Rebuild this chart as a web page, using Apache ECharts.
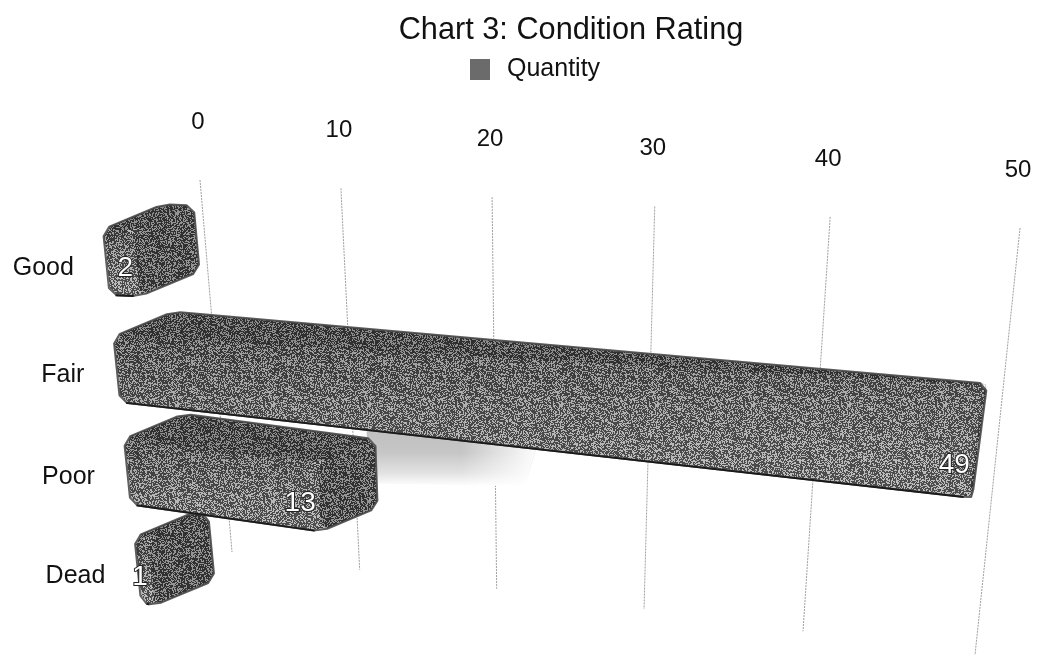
<!DOCTYPE html>
<html>
<head>
<meta charset="utf-8">
<title>Chart 3: Condition Rating</title>
<script src="https://cdn.jsdelivr.net/npm/echarts@6/dist/echarts.min.js"></script>
<style>
html, body { margin: 0; padding: 0; background: #fff; }
#main { width: 1038px; height: 656px; }
</style>
</head>
<body>
<div id="main"></div>
<script>
var categories = ['Good', 'Fair', 'Poor', 'Dead'];
var quantities = [2, 49, 13, 1];
var tickValues = [0, 10, 20, 30, 40, 50];
var seriesName = 'Quantity';

var FONT = '"Liberation Sans", Arial, sans-serif';

// the picture is a tilted 3d chart: plot coordinates from the axes are bent onto these quads
var gridQuad = { tl: [200, 180], tr: [1020, 228], bl: [232, 552], br: [975, 655], w: 0.83 };
var frontQuad = { tl: [101, 212], tr: [1027, 230], bl: [143, 621], br: [950, 798], w: 0.83 };
var rowNudge = [-1, 4, 4, 0];

function bend(u, w) {
    return u * w / (u * w + 1 - u);
}

function project(q, u, t) {
    var k = bend(u, q.w);
    var x0 = q.tl[0] + (q.bl[0] - q.tl[0]) * t, y0 = q.tl[1] + (q.bl[1] - q.tl[1]) * t;
    var x1 = q.tr[0] + (q.br[0] - q.tr[0]) * t, y1 = q.tr[1] + (q.br[1] - q.tr[1]) * t;
    return [x0 + (x1 - x0) * k, y0 + (y1 - y0) * k];
}

// point on a bar's front face, off the row's centre line by a number of pixels
function frontPoint(u, t, idx, off) {
    var q = frontQuad;
    var c = project(q, u, t);
    var a = project(q, u, t - 0.01), b = project(q, u, t + 0.01);
    var dx = b[0] - a[0], dy = b[1] - a[1], len = Math.sqrt(dx * dx + dy * dy);
    var k = bend(u, q.w);
    var shift = rowNudge[idx] * (1 - k);
    return [c[0] + dx / len * off, c[1] + dy / len * off + shift];
}

function halfHeight(u) {
    var k = bend(u, frontQuad.w);
    return 33 + 25 * k * k;
}

// depth of the bars shrinks toward the right end
function toBack(p, u) {
    var k = bend(u, frontQuad.w), s = 1 - k * k;
    return [p[0] + 60 * s, p[1] - 25 * s];
}

function unit(params, pt) {
    var c = params.coordSys;
    return [(pt[0] - c.x) / c.width, (pt[1] - c.y) / c.height];
}

// cut the corners so that the round join gives the soft edge of the bars
function chamfer(points, d) {
    var out = [];
    var n = points.length;
    for (var i = 0; i < n; i++) {
        var p = points[i], a = points[(i + n - 1) % n], b = points[(i + 1) % n];
        out.push(toward(p, a, d));
        out.push(toward(p, b, d));
    }
    return out;
}

function toward(p, q, d) {
    var dx = q[0] - p[0], dy = q[1] - p[1], len = Math.sqrt(dx * dx + dy * dy);
    if (len < 0.01) {
        return [p[0], p[1]];
    }
    var m = Math.min(d, len * 0.4);
    return [p[0] + dx / len * m, p[1] + dy / len * m];
}

// scanned halftone look
function makeTile(level) {
    var size = 96;
    var cv = document.createElement('canvas');
    cv.width = cv.height = size;
    var ctx = cv.getContext('2d');
    var img = ctx.createImageData(size, size);
    for (var y = 0; y < size; y++) {
        for (var x = 0; x < size; x++) {
            var h = Math.sin(x * 12.9898 + y * 78.233) * 43758.5453;
            h = h - Math.floor(h);
            var g = h < level ? 185 : 62;
            var i = (y * size + x) * 4;
            img.data[i] = img.data[i + 1] = img.data[i + 2] = g;
            img.data[i + 3] = 255;
        }
    }
    ctx.putImageData(img, 0, 0);
    return cv;
}
var barTile = makeTile(0.42);

function poly(points, style) {
    return { type: 'polygon', shape: { points: points }, style: style, silent: true };
}

function renderGridLine(params, api) {
    var v = api.value(0);
    var c = unit(params, api.coord([v, 0]));
    var top = project(gridQuad, c[0], 0), bottom = project(gridQuad, c[0], 1);
    return {
        type: 'group',
        children: [
            {
                type: 'line',
                shape: { x1: top[0], y1: top[1], x2: bottom[0], y2: bottom[1] },
                style: { stroke: '#a0a0a0', lineWidth: 1, lineDash: [2, 1] }
            },
            {
                type: 'text',
                style: {
                    x: top[0] - 2, y: top[1] - 58, text: String(v),
                    fill: '#111', font: '24px ' + FONT, align: 'center', verticalAlign: 'middle'
                }
            }
        ]
    };
}

function renderShadow(params, api) {
    var idx = api.value(1);
    var end = api.value(0);
    var a = project(gridQuad, unit(params, api.coord([end - 2, idx]))[0], 0.6);
    var b = project(gridQuad, unit(params, api.coord([end + 10, idx]))[0], 0.6);
    var c = project(gridQuad, unit(params, api.coord([end + 9, idx]))[0], 0.73);
    var d = project(gridQuad, unit(params, api.coord([end - 2, idx]))[0], 0.77);
    return {
        type: 'group',
        children: [
            poly([a, b, c, d], {
                fill: {
                    type: 'linear', x: 0, y: 0, x2: 0, y2: 1,
                    colorStops: [
                        { offset: 0, color: '#bcbcbc' },
                        { offset: 0.5, color: '#c6c6c6' },
                        { offset: 0.8, color: '#e2e2e2' },
                        { offset: 1, color: '#ffffff' }
                    ]
                }
            }),
            poly([a, b, c, d], {
                fill: {
                    type: 'linear', x: 0, y: 0, x2: 1, y2: 0,
                    colorStops: [
                        { offset: 0, color: 'rgba(255,255,255,0)' },
                        { offset: 0.55, color: 'rgba(255,255,255,0)' },
                        { offset: 1, color: 'rgba(255,255,255,1)' }
                    ]
                }
            })
        ]
    };
}

function renderBar(params, api) {
    var value = api.value(0), idx = api.value(1);
    var centre = unit(params, api.coord([value, idx]));
    var zero = unit(params, api.coord([0, idx]));
    var u = centre[0], t = centre[1], u0 = zero[0];
    var h0 = halfHeight(u0), h1 = halfHeight(u);

    var ftl = frontPoint(u0, t, idx, -h0), fbl = frontPoint(u0, t, idx, h0);
    var ftr = frontPoint(u, t, idx, -h1), fbr = frontPoint(u, t, idx, h1);
    var btl = toBack(ftl, u0), btr = toBack(ftr, u), bbr = toBack(fbr, u);

    var k = bend(u, frontQuad.w);
    var labelPos = frontPoint(u, t, idx, 5 + 20 * k * k);
    var rowLeft = frontPoint(u0, t, idx, 6);
    var R = 7;

    return {
        type: 'group',
        children: [
            poly(chamfer([ftl, btl, btr, bbr, fbr, fbl], R), {
                fill: { image: barTile, repeat: 'repeat' },
                stroke: '#5e5e5e', lineWidth: 2, lineJoin: 'round'
            }),
            // top and end faces are a little darker than the front
            poly(chamfer([ftl, btl, btr, ftr], R), { fill: 'rgba(0,0,0,0.24)' }),
            poly(chamfer([ftr, btr, bbr, fbr], R), { fill: 'rgba(0,0,0,0.2)' }),
            poly(chamfer([ftl, ftr, fbr, fbl], R), {
                fill: {
                    type: 'linear', x: 0, y: 0, x2: 0, y2: 1,
                    colorStops: [
                        { offset: 0, color: 'rgba(0,0,0,0.18)' },
                        { offset: 1, color: 'rgba(255,255,255,0.08)' }
                    ]
                }
            }),
            {
                type: 'polyline',
                shape: { points: [toward(fbl, fbr, 6), toward(fbr, fbl, 6)] },
                style: { stroke: '#1a1a1a', lineWidth: 2, fill: null }
            },
            {
                type: 'text',
                style: {
                    x: labelPos[0] - 4, y: labelPos[1], text: String(value),
                    fill: '#fff', stroke: '#222', lineWidth: 2,
                    font: '28px ' + FONT, align: 'right', verticalAlign: 'middle'
                }
            },
            {
                type: 'text',
                style: {
                    x: rowLeft[0] - 33, y: rowLeft[1], text: categories[idx],
                    fill: '#111', font: '25px ' + FONT, align: 'right', verticalAlign: 'middle'
                }
            }
        ]
    };
}

// lower bars are painted first, the bar above overlaps them
var barData = quantities.map(function (q, i) {
    return [q, i];
}).reverse();

var chart = echarts.init(document.getElementById('main'));
chart.setOption({
    animation: false,
    backgroundColor: '#fff',
    title: {
        text: 'Chart 3: Condition Rating',
        left: 566, top: 10, textAlign: 'center',
        textStyle: { fontFamily: FONT, fontSize: 30.7, fontWeight: 'normal', color: '#111' }
    },
    legend: {
        data: [seriesName],
        left: 465, top: 52,
        itemWidth: 20, itemHeight: 21,
        icon: 'rect',
        textStyle: { fontFamily: FONT, fontSize: 25, color: '#111', padding: [0, 0, 0, 12] }
    },
    grid: { left: 0, right: 0, top: 0, bottom: 0 },
    xAxis: { type: 'value', min: 0, max: 50, interval: 10, show: false },
    yAxis: { type: 'category', data: categories, inverse: true, show: false },
    series: [
        {
            type: 'custom', name: 'axis', silent: true, z: 1,
            renderItem: renderGridLine, clip: false,
            data: tickValues.map(function (v) { return [v, 0]; })
        },
        {
            type: 'custom', name: 'shadow', silent: true, z: 2,
            renderItem: renderShadow, clip: false,
            data: [[quantities[2], 2]]
        },
        {
            type: 'custom', name: seriesName, silent: true, z: 3,
            renderItem: renderBar, clip: false,
            itemStyle: { color: '#6b6b6b' },
            data: barData
        }
    ]
});
</script>
</body>
</html>
